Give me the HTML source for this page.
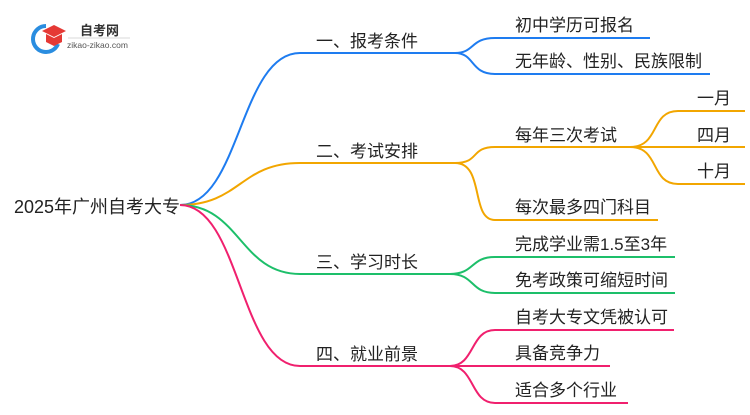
<!DOCTYPE html>
<html><head><meta charset="utf-8"><style>
html,body{margin:0;padding:0;background:#fff;}
svg text{font-family:"Liberation Sans","Noto Sans CJK SC",sans-serif;fill:#222;font-size:17px;}
</style></head><body>
<svg width="750" height="410" viewBox="0 0 750 410" xmlns="http://www.w3.org/2000/svg">
<!-- logo -->
<path d="M46 26 A13 13 0 1 0 58 44" fill="none" stroke="#2a8de0" stroke-width="4"/>
<path d="M42 31 L54 25 L66 31 L54 37 Z" fill="#e53935"/>
<path d="M46 34 L46 42 L54 46 L62 42 L62 34 L54 38 Z" fill="#e53935"/>
<text x="80" y="35" style="font-size:13px;font-weight:bold;fill:#333">自考网</text>
<line x1="68" y1="38" x2="130" y2="38" stroke="#ccc" stroke-width="0.8"/>
<text x="67" y="48" style="font-size:8.5px;fill:#555">zikao-zikao.com</text>

<g fill="none" stroke-width="2">
<!-- blue -->
<g stroke="#1e7cf0">
<path d="M180 205 C240 205 240 53 300 53 L455 53"/>
<path d="M455 53 C475 53 470 38 495 38 L650 38"/>
<path d="M455 53 C475 53 470 74 495 74 L710 74"/>
</g>
<!-- orange -->
<g stroke="#f2a600">
<path d="M180 205 C240 205 240 163 300 163 L455 163"/>
<path d="M455 163 C480 163 470 147 495 147 L630 147"/>
<path d="M455 163 C485 163 470 220 495 220 L658 220"/>
<path d="M630 147 C660 147 650 111 678 111 L745 111"/>
<path d="M630 147 L745 147"/>
<path d="M630 147 C660 147 650 184 678 184 L745 184"/>
</g>
<!-- green -->
<g stroke="#1dbf6a">
<path d="M180 205 C240 205 240 274 300 274 L455 274"/>
<path d="M450 274 C475 274 470 257 495 257 L675 257"/>
<path d="M450 274 C475 274 470 293 495 293 L675 293"/>
</g>
<!-- pink -->
<g stroke="#f0206e">
<path d="M180 205 C240 205 240 366 300 366 L455 366"/>
<path d="M450 366 C475 366 470 330 495 330 L674 330"/>
<path d="M450 366 L610 366"/>
<path d="M450 366 C475 366 470 403 495 403 L628 403"/>
</g>
</g>

<text x="14" y="213" style="font-size:18px">2025年广州自考大专</text>
<text x="316" y="47">一、报考条件</text>
<text x="316" y="157">二、考试安排</text>
<text x="316" y="268">三、学习时长</text>
<text x="316" y="360">四、就业前景</text>

<text x="515" y="31">初中学历可报名</text>
<text x="515" y="67">无年龄、性别、民族限制</text>
<text x="515" y="141">每年三次考试</text>
<text x="515" y="213">每次最多四门科目</text>
<text x="697" y="104">一月</text>
<text x="697" y="141">四月</text>
<text x="697" y="177">十月</text>
<text x="515" y="250">完成学业需1.5至3年</text>
<text x="515" y="286">免考政策可缩短时间</text>
<text x="515" y="323">自考大专文凭被认可</text>
<text x="515" y="359">具备竞争力</text>
<text x="515" y="396">适合多个行业</text>
</svg>
</body></html>
